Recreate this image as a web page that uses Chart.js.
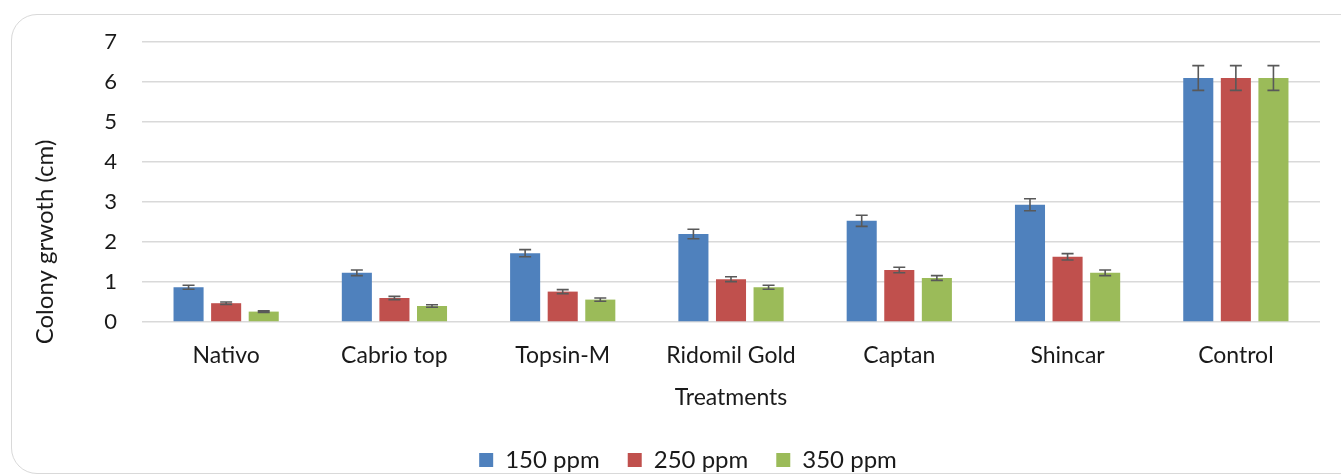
<!DOCTYPE html>
<html>
<head>
<meta charset="utf-8">
<script src="https://cdn.jsdelivr.net/npm/chart.js@4"></script>
<style>
  html, body { margin: 0; padding: 0; background: #fff; overflow: hidden; }
  #frame { position: absolute; left: 11px; top: 14px; width: 1400px; height: 458px;
           border: 1.5px solid #d9d9d9; border-radius: 26px; }
  #wrap { position: absolute; left: 0; top: 0; width: 1341px; height: 482px; }
</style>
</head>
<body>
<div id="frame"></div>
<div id="wrap"><canvas id="chart"></canvas></div>
<script>
// data
const treatments = ['Nativo', 'Cabrio top', 'Topsin-M', 'Ridomil Gold', 'Captan', 'Shincar', 'Control']
const ppm150 = [0.87, 1.23, 1.72, 2.2, 2.53, 2.93, 6.1]
const ppm250 = [0.47, 0.6, 0.76, 1.07, 1.3, 1.63, 6.1]
const ppm350 = [0.26, 0.4, 0.56, 0.87, 1.1, 1.23, 6.1]
const err150 = [0.05, 0.07, 0.09, 0.12, 0.14, 0.15, 0.31]
const err250 = [0.03, 0.04, 0.05, 0.06, 0.07, 0.08, 0.31]
const err350 = [0.02, 0.03, 0.04, 0.05, 0.06, 0.07, 0.31]
const yTicks = [0, 1, 2, 3, 4, 5, 6, 7]
const yTitle = 'Colony grwoth (cm)'

const errors = [err150, err250, err350]
const font_family = 'Lato, "Open Sans", sans-serif'
const text_color = '#1a1a1a'

// error bars drawn on top of the bars
const errorBars = {
    id: 'errorBars',
    afterDatasetsDraw(chart) {
        const ctx = chart.ctx
        const y = chart.scales.y
        ctx.save()
        ctx.strokeStyle = '#595959'
        ctx.lineWidth = 1.6
        chart.data.datasets.forEach((ds, d) => {
            const meta = chart.getDatasetMeta(d)
            meta.data.forEach((bar, i) => {
                const v = ds.data[i]
                const e = errors[d][i]
                const top = y.getPixelForValue(v + e)
                const bot = y.getPixelForValue(v - e)
                ctx.beginPath()
                ctx.moveTo(bar.x, top); ctx.lineTo(bar.x, bot)
                ctx.moveTo(bar.x - 6, top); ctx.lineTo(bar.x + 6, top)
                ctx.moveTo(bar.x - 6, bot); ctx.lineTo(bar.x + 6, bot)
                ctx.stroke()
            })
        })
        ctx.restore()
    }
}

// y title sits lower than the plot centre in the original, so draw it here
const yTitlePlugin = {
    id: 'yTitle',
    afterDraw(chart) {
        const ctx = chart.ctx
        ctx.save()
        ctx.translate(45, 242)
        ctx.rotate(-Math.PI / 2)
        ctx.font = '24px ' + font_family
        ctx.fillStyle = text_color
        ctx.textAlign = 'center'
        ctx.textBaseline = 'middle'
        ctx.fillText(yTitle, 0, 0)
        ctx.restore()
    }
}

const chart = new Chart(document.getElementById('chart'), {
    type: 'bar',
    data: {
        labels: treatments,
        datasets: [
            { label: '150 ppm', data: ppm150, backgroundColor: '#4f81bd' },
            { label: '250 ppm', data: ppm250, backgroundColor: '#c0504d' },
            { label: '350 ppm', data: ppm350, backgroundColor: '#9bbb59' }
        ]
    },
    options: {
        responsive: true,
        maintainAspectRatio: false,
        animation: false,
        categoryPercentage: 0.67,
        barPercentage: 0.8,
        // left padding pushes the legend centre to where it is in the original
        layout: { padding: { top: 42, right: 21, left: 56, bottom: 0 } },
        scales: {
            x: {
                grid: { display: false, drawTicks: false },
                border: { display: false },
                ticks: { color: text_color, font: { family: font_family, size: 23 }, padding: 20 },
                title: { display: true, text: 'Treatments', color: text_color,
                         font: { family: font_family, size: 23 }, padding: { top: 0, bottom: 9 } },
                afterFit(scale) { scale.height = 98 }
            },
            y: {
                min: 0,
                max: 7,
                afterBuildTicks(scale) { scale.ticks = yTicks.map(v => ({ value: v })) },
                grid: { color: '#d9d9d9', lineWidth: 1.5, drawTicks: false },
                border: { display: false },
                ticks: { color: text_color, font: { family: font_family, size: 22 }, padding: 25 },
                afterFit(scale) { scale.width = 86 }
            }
        },
        plugins: {
            legend: {
                position: 'bottom',
                labels: {
                    color: text_color,
                    font: { family: font_family, size: 24 },
                    boxWidth: 14,
                    boxHeight: 14,
                    padding: 28
                }
            },
            tooltip: { enabled: false }
        }
    },
    plugins: [errorBars, yTitlePlugin]
});
</script>
</body>
</html>
